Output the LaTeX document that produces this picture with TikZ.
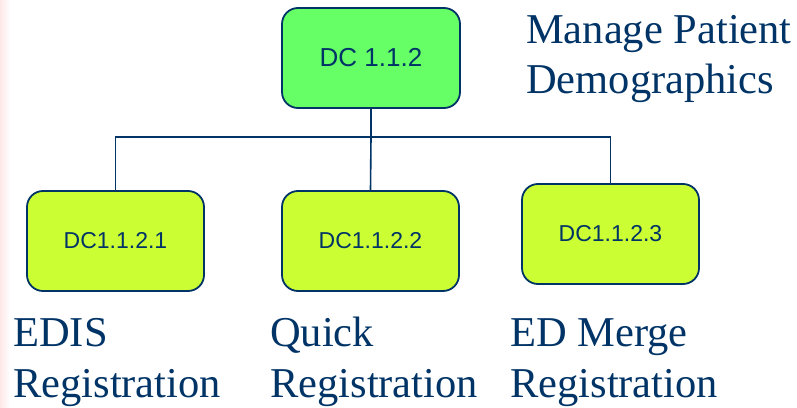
\documentclass[tikz,border=0pt]{standalone}
\usepackage{fontspec}
\setmainfont{Liberation Serif}
\setsansfont{Liberation Sans}
\usepackage{xcolor}
\usepackage{tikz}
\usetikzlibrary{shapes,arrows,positioning,calc}
\definecolor{dcnavy}{RGB}{0,51,102}
\definecolor{dcgreen}{RGB}{102,255,102}
\definecolor{dclime}{RGB}{204,255,51}
\tikzset{
    block/.style={rectangle, draw=dcnavy, line width=1.8pt, fill=dclime, text=dcnavy, rounded corners=16pt, minimum width=177pt, minimum height=100pt, inner sep=0pt, font=\sffamily\fontsize{23}{26}\selectfont},
    topblock/.style={block, fill=dcgreen, minimum width=178pt, font=\sffamily\fontsize{26}{30}\selectfont},
    line/.style={draw=dcnavy, line width=1.6pt},
    caption/.style={anchor=base west, align=left, inner sep=0pt, text=dcnavy, font=\fontsize{42.5}{50.5}\selectfont}
}
\begin{document}
\begin{tikzpicture}[x=1pt, y=1pt]
    \useasboundingbox (0,0) rectangle (797,407);
    % Slide edge
    \shade [left color=red!9, right color=white] (0,0) rectangle (10,407);

    % Parent function
    \node [topblock] (dc) at (371,349) {DC 1.1.2};
    \node [caption] (dctext) at (526,313) {Manage Patient\\Demographics};

    % Sub functions
    \node [block] (edis) at (115.5,166) {DC1.1.2.1};
    \node [block] (quick) at (370.5,166) {DC1.1.2.2};
    \node [block] (merge) at (610.5,173) {DC1.1.2.3};

    % Tree connections
    \coordinate (bus) at (371,270);
    \path [line] (dc.south) -- (bus);
    \path [line] (edis.north) |- (bus) -| (merge.north);
    \path [line] (bus) -- (quick.north);

    % Sub function names
    \node [caption] (edistext) at (13,10) {EDIS\\Registration};
    \node [caption] (quicktext) at (270,10) {Quick\\Registration};
    \node [caption] (mergetext) at (510,10) {ED Merge\\Registration};
\end{tikzpicture}
\end{document}
